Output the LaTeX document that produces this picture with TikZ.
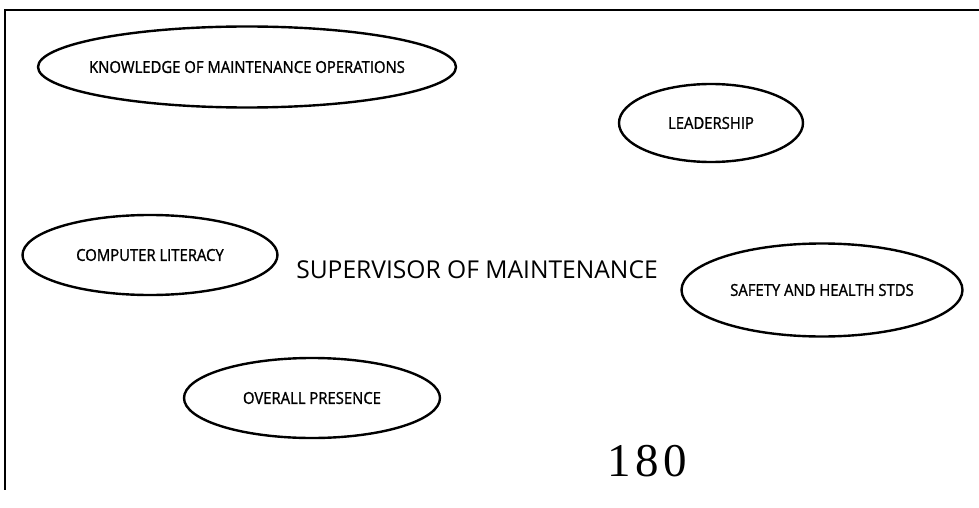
\documentclass[tikz,border=0pt]{standalone}
\usepackage{fontspec}
\setmainfont{Open Sans}
\newfontfamily\lblfont[FakeStretch=0.90,FakeBold=1.2]{Open Sans}
\newfontfamily\numfont[LetterSpace=10]{Liberation Serif}
\usetikzlibrary{shapes.geometric}
\newcommand{\ovaltext}[1]{\makebox[0pt]{#1}}
\begin{document}
\begin{tikzpicture}[x=1pt,y=-1pt,
  oval/.style={draw,line width=2.4pt,ellipse,inner sep=0pt,font=\lblfont\fontsize{16.5}{17}\selectfont},
  frame/.style={line width=1.8pt}]
\useasboundingbox (0,0) rectangle (979,508);
\coordinate (ftr) at (979,10);
\coordinate (ftl) at (5,10);
\coordinate (fbl) at (5,490);
\draw[frame] (ftr) -- (ftl) -- (fbl);
\node[oval,minimum width=418,minimum height=81] (know) at (247,67) {\ovaltext{KNOWLEDGE OF MAINTENANCE OPERATIONS}};
\node[oval,minimum width=184,minimum height=78] (lead) at (711,123) {\ovaltext{LEADERSHIP}};
\node[oval,minimum width=255,minimum height=80] (comp) at (150,255) {\ovaltext{COMPUTER LITERACY}};
\node[oval,minimum width=281,minimum height=93] (safe) at (822,290) {\ovaltext{SAFETY AND HEALTH STDS}};
\node[oval,minimum width=256,minimum height=80] (pres) at (312,398) {\ovaltext{OVERALL PRESENCE}};
\node[font=\fontsize{24.6}{26}\selectfont] (sup) at (477,270) {SUPERVISOR OF MAINTENANCE};
\node[font=\numfont\fontsize{47}{48}\selectfont] (num) at (647,461) {180};
\end{tikzpicture}
\end{document}
